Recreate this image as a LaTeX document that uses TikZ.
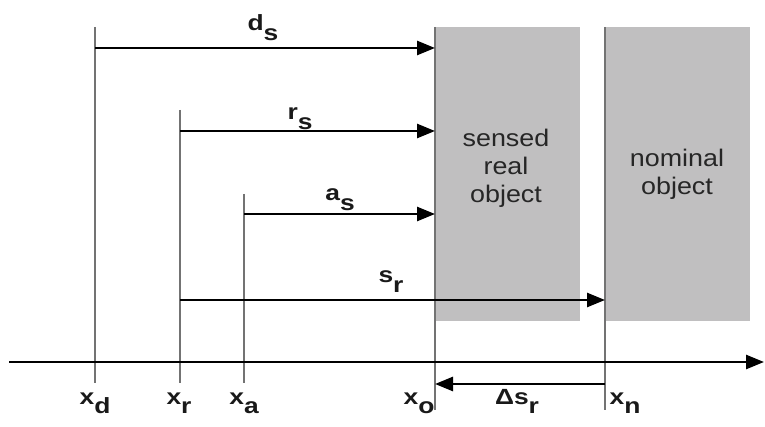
\documentclass[tikz,border=0pt]{standalone}
\usepackage{fontspec}
\setmainfont{Liberation Sans}
\usetikzlibrary{arrows.meta}
\definecolor{objgray}{RGB}{192,191,192}
\definecolor{linegray}{RGB}{115,115,115}
\newcommand{\sub}[2]{\scalebox{1.2}[1]{#1\raisebox{-0.45em}{#2}}}
\tikzset{
  markline/.style={draw=linegray,line width=1.5pt},
  dimarrow/.style={draw=black,line width=2.6pt,-{Triangle[length=18pt,width=14pt]}},
  lbl/.style={anchor=base,inner sep=0pt,font=\bfseries\fontsize{22}{24}\selectfont,text=black!90},
  txt/.style={align=center,font=\fontsize{24}{28}\selectfont,text=black!85},
}
\begin{document}
\begin{tikzpicture}[x=1pt,y=-1pt]
\useasboundingbox (0,0) rectangle (765,427);
% objects
\fill[objgray] (435,27) rectangle (580,321);
\fill[objgray] (605,27) rectangle (750,321);
\node[txt] (sensed) at (506,168) {\scalebox{1.12}[1]{sensed}\\\scalebox{1.12}[1]{real}\\\scalebox{1.12}[1]{object}};
\node[txt] (nominal) at (677,174) {\scalebox{1.12}[1]{nominal}\\\scalebox{1.12}[1]{object}};
%
\coordinate (xdtop) at (95,27);   \coordinate (xdbot) at (95,383);
\coordinate (xrtop) at (180,110); \coordinate (xrbot) at (180,383);
\coordinate (xatop) at (244,194); \coordinate (xabot) at (244,383);
\coordinate (xotop) at (435,27);  \coordinate (xobot) at (435,410);
\coordinate (xntop) at (605,27);  \coordinate (xnbot) at (605,410);
\draw[markline] (xdtop) -- (xdbot);
\draw[markline] (xrtop) -- (xrbot);
\draw[markline] (xatop) -- (xabot);
\draw[markline] (xotop) -- (xobot);
\draw[markline] (xntop) -- (xnbot);
%
\coordinate (axl) at (9,362);
\coordinate (axr) at (764,362);
\draw[dimarrow] (axl) -- (axr);
%
\coordinate (ds0) at (95,48);   \coordinate (ds1) at (435,48);
\coordinate (rs0) at (180,131); \coordinate (rs1) at (435,131);
\coordinate (as0) at (244,214); \coordinate (as1) at (435,214);
\coordinate (sr0) at (180,300); \coordinate (sr1) at (605,300);
\coordinate (dl0) at (605,384); \coordinate (dl1) at (435,384);
\draw[dimarrow] (ds0) -- (ds1);
\draw[dimarrow] (rs0) -- (rs1);
\draw[dimarrow] (as0) -- (as1);
\draw[dimarrow] (sr0) -- (sr1);
\draw[dimarrow] (dl0) -- (dl1);
%
\node[lbl] (lds) at (263,31) {\sub{d}{s}};
\node[lbl] (lrs) at (300,120) {\sub{r}{s}};
\node[lbl] (las) at (340,201) {\sub{a}{s}};
\node[lbl] (lsr) at (391,283) {\sub{s}{r}};
\node[lbl] (ldsr) at (517,404) {\sub{Δs}{r}};
%
\node[lbl] (lxd) at (95,404) {\sub{x}{d}};
\node[lbl] (lxr) at (179,404) {\sub{x}{r}};
\node[lbl] (lxa) at (244,404) {\sub{x}{a}};
\node[lbl] (lxo) at (419,404) {\sub{x}{o}};
\node[lbl] (lxn) at (625,404) {\sub{x}{n}};
\end{tikzpicture}
\end{document}
